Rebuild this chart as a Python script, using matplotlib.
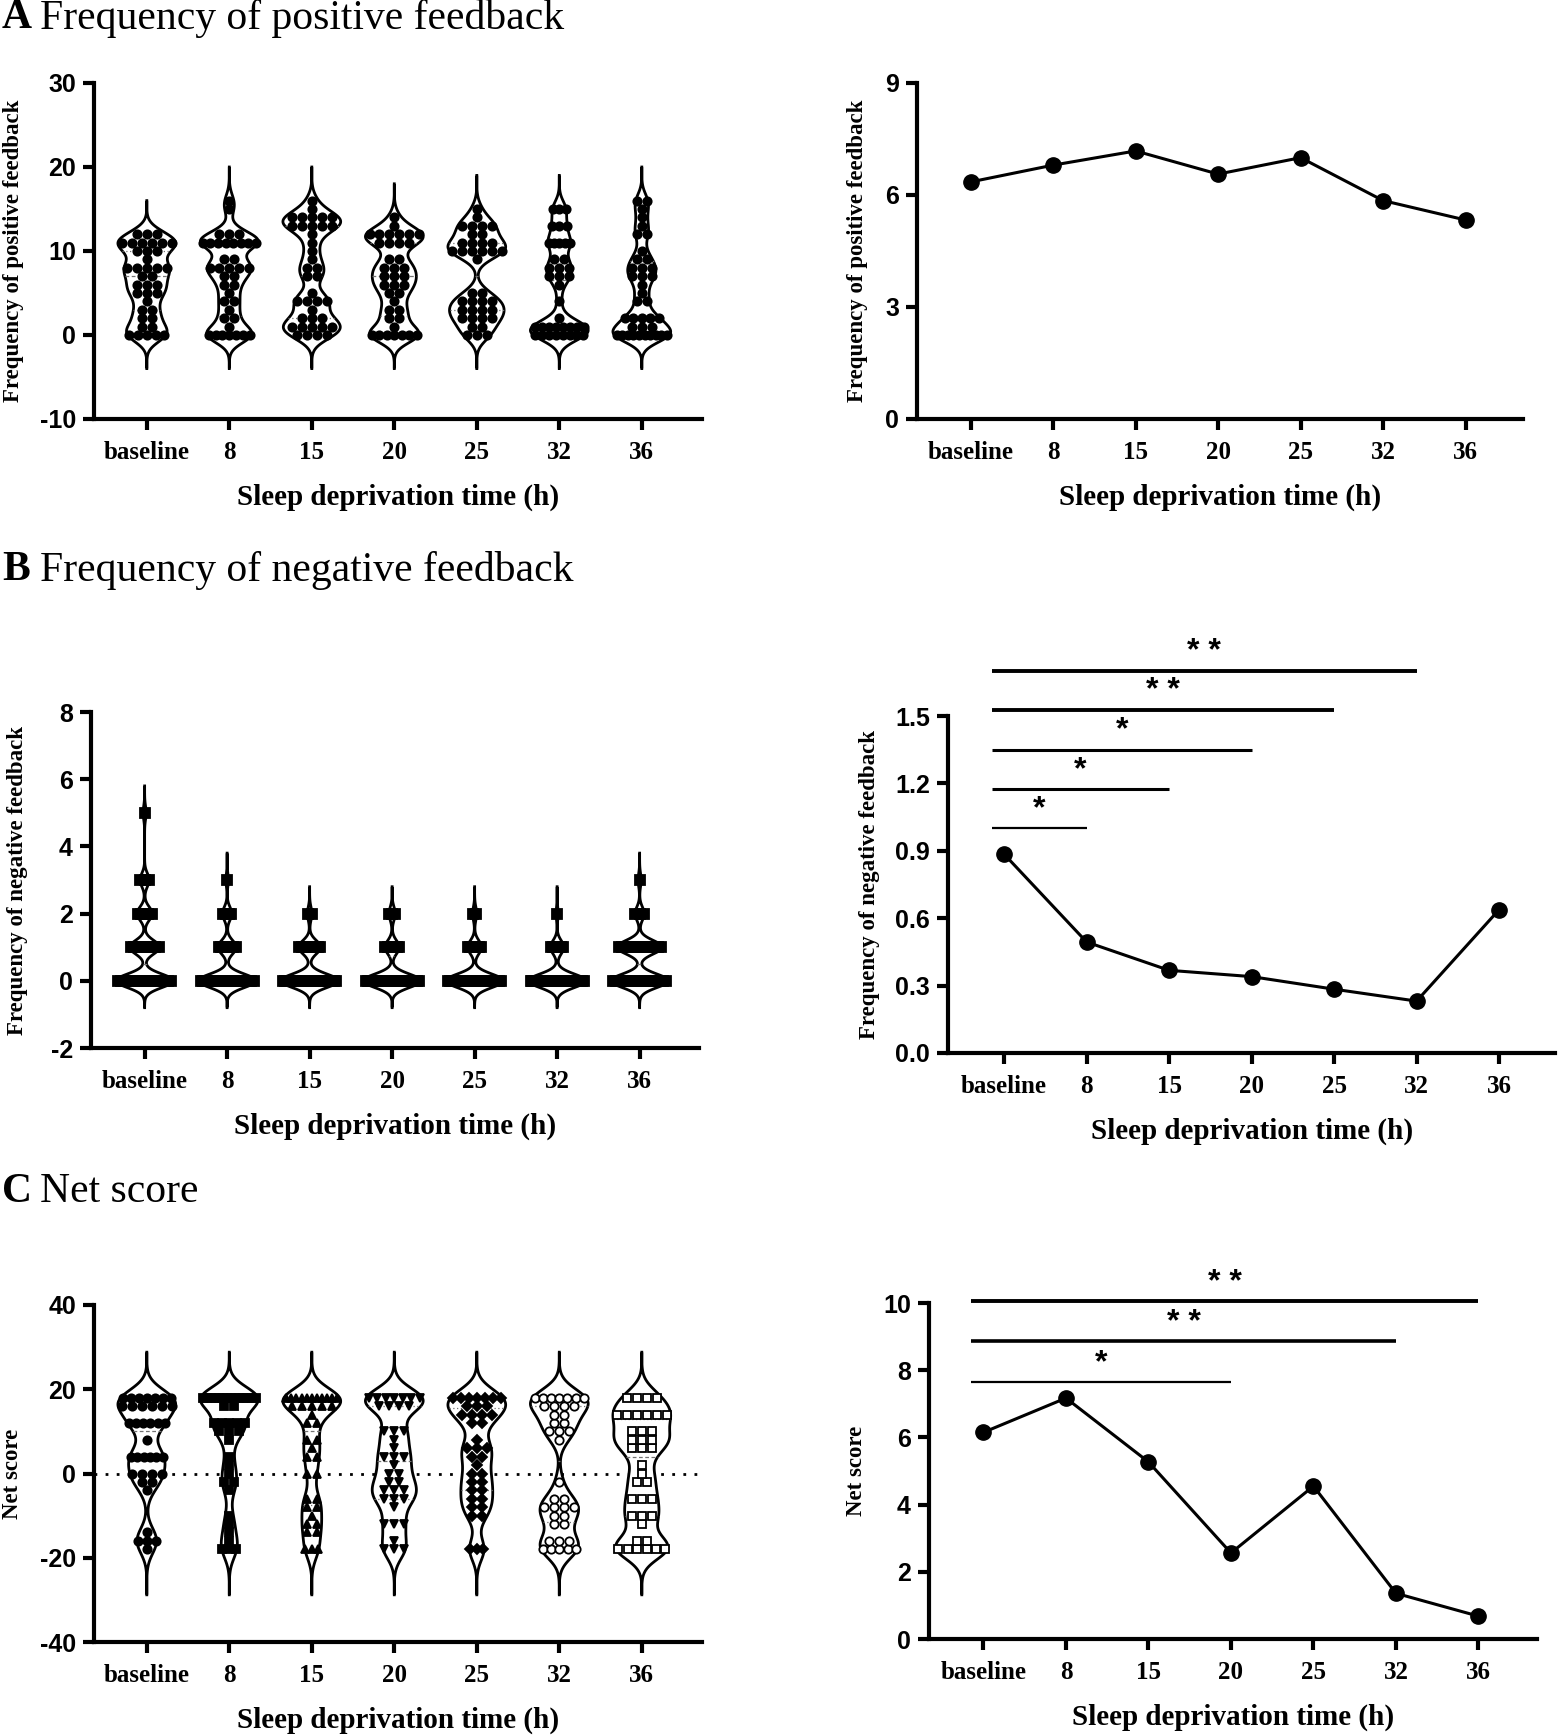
import matplotlib

matplotlib.use("Agg")
import matplotlib.pyplot as plt
import numpy as np

SERIF = "Liberation Serif"
SANS = "Liberation Sans"

plt.rcParams["axes.unicode_minus"] = False

times = ["baseline", "8", "15", "20", "25", "32", "36"]

# individual scores per session, tallied as {score: number of participants}
pos_tally = [
    {12: 3, 11: 6, 10: 3, 9: 1, 8: 5, 7: 2, 6: 3, 5: 3, 4: 1, 3: 2, 2: 2, 1: 2, 0: 5},
    {16: 1, 15: 1, 12: 3, 11: 8, 9: 2, 8: 5, 7: 2, 6: 2, 5: 1, 4: 2, 3: 1, 2: 2, 1: 1, 0: 7},
    {16: 1, 15: 1, 14: 5, 13: 5, 12: 1, 11: 1, 10: 1, 9: 1, 8: 2, 7: 2, 5: 1, 4: 4, 3: 1, 2: 3, 1: 5, 0: 4},
    {14: 1, 13: 1, 12: 6, 11: 4, 9: 2, 8: 3, 7: 3, 6: 3, 5: 2, 4: 1, 3: 2, 2: 2, 1: 1, 0: 7},
    {15: 1, 14: 1, 13: 4, 12: 2, 11: 4, 10: 6, 9: 1, 5: 2, 4: 4, 3: 4, 2: 4, 1: 2, 0: 3},
    {15: 3, 13: 3, 11: 5, 9: 2, 8: 3, 7: 3, 6: 1, 4: 1, 2: 1, 1: 8, 0: 8},
    {16: 2, 15: 1, 14: 1, 13: 1, 12: 2, 10: 1, 9: 2, 8: 3, 7: 3, 6: 1, 5: 1, 4: 2, 2: 5, 1: 3, 0: 10},
]
neg_tally = [
    {5: 1, 3: 3, 2: 5, 1: 10, 0: 19},
    {3: 1, 2: 4, 1: 8, 0: 25},
    {2: 2, 1: 10, 0: 26},
    {2: 3, 1: 7, 0: 28},
    {2: 2, 1: 7, 0: 29},
    {2: 1, 1: 7, 0: 30},
    {3: 1, 2: 3, 1: 15, 0: 19},
]
net_tally = [
    {18: 7, 16: 6, 12: 6, 8: 1, 4: 6, 0: 4, -2: 2, -4: 1, -14: 1, -16: 3, -18: 1},
    {18: 14, 16: 2, 12: 5, 10: 3, 8: 1, 4: 1, 2: 1, 0: 1, -2: 2, -4: 1, -10: 1, -12: 1, -14: 1, -16: 1, -18: 3},
    {18: 11, 16: 5, 14: 1, 12: 2, 8: 2, 6: 1, 4: 2, 0: 2, -6: 2, -8: 2, -10: 1, -12: 2, -14: 2, -18: 3},
    {18: 7, 16: 4, 10: 3, 8: 1, 6: 1, 4: 3, 2: 1, 0: 2, -2: 2, -4: 3, -6: 3, -8: 1, -12: 3, -16: 1, -18: 3},
    {18: 7, 16: 3, 14: 4, 12: 2, 8: 1, 6: 3, 4: 2, 2: 1, 0: 2, -2: 2, -4: 2, -6: 2, -8: 2, -10: 2, -18: 3},
    {18: 7, 16: 4, 14: 2, 12: 2, 10: 3, 8: 1, -2: 1, -6: 2, -8: 4, -10: 2, -12: 2, -16: 3, -18: 5},
    {18: 4, 14: 6, 10: 3, 8: 3, 6: 3, 2: 1, 0: 1, -2: 2, -6: 3, -10: 3, -12: 1, -16: 2, -18: 6},
]
net_markers = ["o", "s", "^", "v", "D", "o", "s"]
net_filled = [True, True, True, True, True, False, False]

# group means
pos_mean = [6.35, 6.80, 7.18, 6.56, 7.00, 5.85, 5.33]
neg_mean = [0.885, 0.494, 0.368, 0.340, 0.284, 0.231, 0.638]
net_mean = [6.15, 7.17, 5.27, 2.56, 4.55, 1.36, 0.68]

# significant comparisons against baseline: (other session index, label)
neg_sig = [(1, "*"), (2, "*"), (3, "*"), (4, "* *"), (5, "* *")]
net_sig = [(3, "*"), (5, "* *"), (6, "* *")]

W, H = 1559, 1735
STEP = 82.5  # pixels between neighbouring sessions


def _rect(x0, y_top, y_bot, xlim):
    w = (xlim[1] - xlim[0]) * STEP
    return [x0 / W, 1 - y_bot / H, w / W, (y_bot - y_top) / H]


def _expand(tally):
    vals = np.array(list(tally.keys()), dtype=float)
    cnts = np.array(list(tally.values()))
    return np.repeat(vals, cnts)


def _style(ax, xlim, ylim, yticks, ylabel, label_x, fmt="{:g}"):
    ax.set_xlim(*xlim)
    ax.set_ylim(*ylim)
    for side in ["top", "right"]:
        ax.spines[side].set_visible(False)
    for side in ["left", "bottom"]:
        ax.spines[side].set_linewidth(3.0)
    ax.spines["left"].set_bounds(*ylim)
    ax.set_xticks(range(len(times)))
    ax.set_xticklabels(times, fontfamily=SERIF, fontweight="bold", fontsize=18)
    ax.set_yticks(yticks)
    ax.set_yticklabels([fmt.format(t) for t in yticks], fontfamily=SANS, fontweight="bold", fontsize=18)
    ax.tick_params(axis="both", width=3.0, length=8, direction="out", pad=5)
    ax.tick_params(axis="x", pad=8)
    ax.set_xlabel("Sleep deprivation time (h)", fontfamily=SERIF, fontweight="bold",
                  fontsize=21, labelpad=14)
    ax.set_ylabel(ylabel, fontfamily=SERIF, fontweight="bold", fontsize=16.5)
    # right edge of the rotated label, in pixels left of the spine
    width_px = (xlim[1] - xlim[0]) * STEP
    ax.yaxis.set_label_coords(-label_x / width_px, 0.5)


def _violin(ax, pos, vals, bw, marker="o", filled=True, ms=6.0, step=0.12, halfw=0.35):
    grid = np.linspace(vals.min() - 4 * bw, vals.max() + 4 * bw, 600)
    dens = np.exp(-0.5 * ((grid[:, None] - vals[None, :]) / bw) ** 2).sum(axis=1)
    hw = dens / dens.max() * halfw
    xs = np.concatenate([pos - hw, (pos + hw)[::-1]])
    ys = np.concatenate([grid, grid[::-1]])
    ax.fill(xs, ys, facecolor="white", edgecolor="black", linewidth=2.0, zorder=2)

    q1, med, q3 = np.percentile(vals, [25, 50, 75])
    for q, ls in [(q1, (0, (1, 2))), (med, (0, (3, 2))), (q3, (0, (1, 2)))]:
        w = np.interp(q, grid, hw)
        ax.plot([pos - w, pos + w], [q, q], color="0.45", lw=0.9, ls=ls, zorder=2.5)

    uniq, cnt = np.unique(vals, return_counts=True)
    for v, k in zip(uniq, cnt):
        w = np.interp(v, grid, hw) * 0.92
        s = step if k < 2 else min(step, 2 * w / (k - 1))
        offs = (np.arange(k) - (k - 1) / 2) * s
        ax.plot(pos + offs, np.full(k, v), ls="none", marker=marker, ms=ms,
                mfc="black" if filled else "white", mec="black", mew=1.3, zorder=3)


def _line(ax, means):
    ax.plot(range(len(means)), means, color="black", lw=2.2, marker="o", ms=11,
            mfc="black", mec="black", zorder=3, clip_on=False)


def _sig_bars(ax, comps, y0, dy, star_off, widths):
    for i, ((idx, label), lw) in enumerate(zip(comps, widths)):
        y = y0 + i * dy
        ax.plot([-0.15, idx], [y, y], color="black", lw=lw, clip_on=False, solid_capstyle="butt")
        ax.text((idx - 0.15) / 2, y + star_off, label, ha="center", va="center",
                fontfamily=SANS, fontweight="bold", fontsize=23, clip_on=False)


def _title(y_px, letter, text):
    fig.text(2 / W, 1 - y_px / H, letter, fontfamily=SERIF, fontweight="bold",
             fontsize=30, va="center", ha="left")
    fig.text(40 / W, 1 - y_px / H, text, fontfamily=SERIF, fontsize=30, va="center", ha="left")


fig = plt.figure(figsize=(W / 100, H / 100), dpi=100)

# A: positive feedback
xl = (-0.64, 6.73)
ax = fig.add_axes(_rect(94, 83, 419, xl))
for i, tally in enumerate(pos_tally):
    _violin(ax, i, _expand(tally), bw=1.0)
_style(ax, xl, (-10, 30), [-10, 0, 10, 20, 30], "Frequency of positive feedback", 70)

xl = (-0.65, 6.70)
ax = fig.add_axes(_rect(917, 83, 419, xl))
_line(ax, pos_mean)
_style(ax, xl, (0, 9), [0, 3, 6, 9], "Frequency of positive feedback", 49)

# B: negative feedback
xl = (-0.65, 6.72)
ax = fig.add_axes(_rect(91, 712, 1048, xl))
for i, tally in enumerate(neg_tally):
    _violin(ax, i, _expand(tally), bw=0.2, marker="s", ms=6.5, step=0.1)
_style(ax, xl, (-2, 8), [-2, 0, 2, 4, 6, 8], "Frequency of negative feedback", 63)

xl = (-0.68, 6.68)
ax = fig.add_axes(_rect(948, 716, 1053, xl))
_line(ax, neg_mean)
_style(ax, xl, (0, 1.5), [0, 0.3, 0.6, 0.9, 1.2, 1.5], "Frequency of negative feedback", 68,
       fmt="{:.1f}")
_sig_bars(ax, neg_sig, 1.0, 0.175, 0.085, [1.6, 2.2, 2.2, 2.8, 2.8])

# C: net score
xl = (-0.64, 6.73)
ax = fig.add_axes(_rect(94, 1305, 1642, xl))
ax.axhline(0, color="black", lw=2.0, ls=(0, (1, 3)), zorder=1)
for i, tally in enumerate(net_tally):
    ms = 4.8 if net_markers[i] == "D" else 6.0
    _violin(ax, i, _expand(tally), bw=2.7, marker=net_markers[i], filled=net_filled[i], ms=ms)
_style(ax, xl, (-40, 40), [-40, -20, 0, 20, 40], "Net score", 71)

xl = (-0.66, 6.71)
ax = fig.add_axes(_rect(929, 1303, 1639, xl))
_line(ax, net_mean)
_style(ax, xl, (0, 10), [0, 2, 4, 6, 8, 10], "Net score", 62)
_sig_bars(ax, net_sig, 7.66, 1.2, 0.55, [1.6, 2.6, 2.8])

_title(18, "A", "Frequency of positive feedback")
_title(570, "B", "Frequency of negative feedback")
_title(1192, "C", "Net score")

fig.savefig("out.png", dpi=100)
